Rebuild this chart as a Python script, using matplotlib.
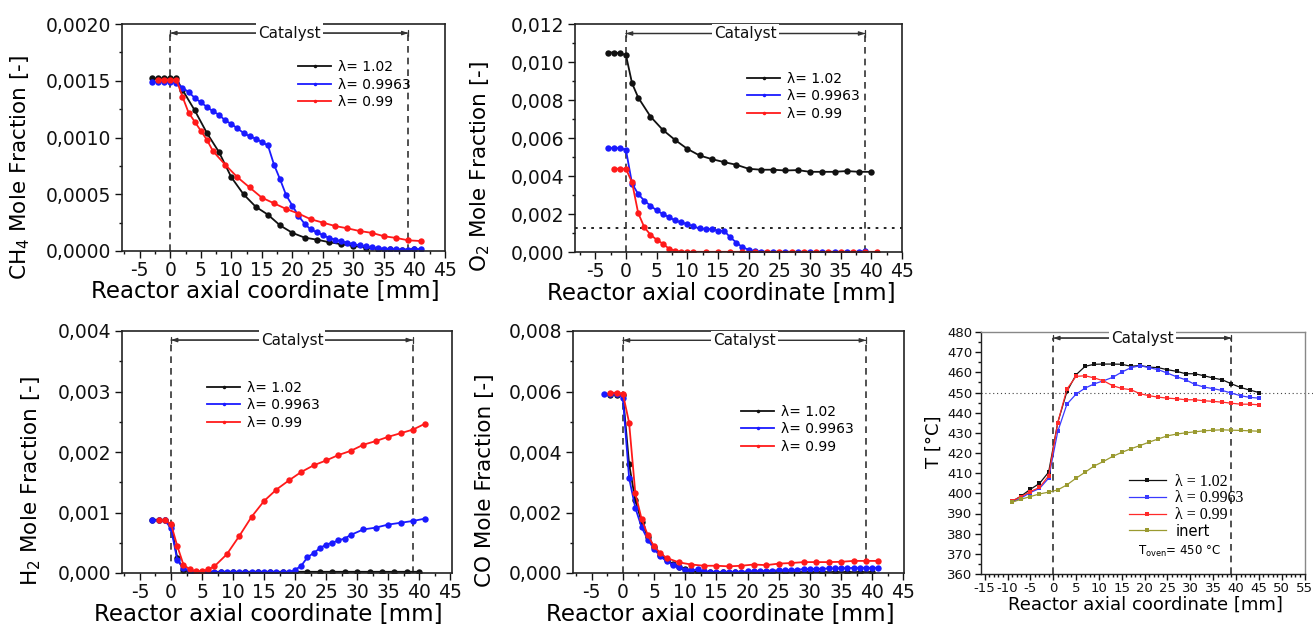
import matplotlib
matplotlib.use('Agg')
import matplotlib.pyplot as plt
from matplotlib.ticker import MultipleLocator

# ---------------- data ----------------
cat_start, cat_end = 0, 39
labels3 = ['λ= 1.02', 'λ= 0.9963', 'λ= 0.99']
labels4 = ['λ = 1.02', 'λ = 0.9963', 'λ = 0.99', 'inert']

# CH4
ch4_x_a = [-3, -2, -1, 0, 1, 2, 4, 6, 8, 10, 12, 14, 16, 18, 20, 22, 24, 26, 28, 30, 32, 34, 36, 38, 40]
ch4_y_a = [0.00152, 0.00152, 0.00152, 0.00152, 0.00152, 0.00142, 0.00124, 0.00104, 0.00087, 0.00065,
           0.00050, 0.00039, 0.00032, 0.000225, 0.00016, 0.000118, 0.00010, 0.000078, 0.00006, 0.000045,
           0.00003, 0.00002, 0.000015, 0.00001, 0.000015]
ch4_x_b = [-3, -2, -1, 0, 1, 2, 3, 4, 5, 6, 7, 8, 9, 10, 11, 12, 13, 14, 15, 16, 17, 18, 19, 20, 21,
           22, 23, 24, 25, 26, 27, 28, 29, 30, 31, 32, 33, 34, 35, 36, 37, 38, 39, 40, 41]
ch4_y_b = [0.00149, 0.00149, 0.00149, 0.00149, 0.00148, 0.00144, 0.0014, 0.00135, 0.00131, 0.00127,
           0.00123, 0.0012, 0.00115, 0.00112, 0.00108, 0.00104, 0.00101, 0.00099, 0.00096, 0.00093,
           0.00076, 0.00063, 0.00049, 0.0004, 0.00031, 0.00024, 0.00019, 0.000165, 0.00014, 0.000115,
           0.0001, 0.000085, 0.000074, 0.00006, 0.00005, 0.00004, 0.000032, 0.000026, 0.00002, 0.000018,
           0.000015, 0.000013, 0.000013, 0.000015, 0.000018]
ch4_x_c = [-2, -1, 0, 1, 2, 3, 4, 5, 6, 7, 9, 11, 13, 15, 17, 19, 21, 23, 25, 27, 29, 31, 33, 35, 37, 39, 41]
ch4_y_c = [0.00151, 0.00151, 0.00151, 0.00151, 0.00136, 0.00122, 0.00114, 0.00106, 0.00098, 0.00088,
           0.00076, 0.00065, 0.00056, 0.00047, 0.00042, 0.00037, 0.00033, 0.00028, 0.00025, 0.00022,
           0.0002, 0.000176, 0.00016, 0.00013, 0.000115, 0.000094, 0.000088]

# O2
o2_x_a = [-3, -2, -1, 0, 1, 2, 4, 6, 8, 10, 12, 14, 16, 18, 20, 22, 24, 26, 28, 30, 32, 34, 36, 38, 40]
o2_y_a = [0.0105, 0.0105, 0.01046, 0.01037, 0.00888, 0.00813, 0.00713, 0.00643, 0.0059, 0.00543,
          0.00508, 0.00489, 0.00473, 0.00459, 0.00438, 0.00433, 0.00433, 0.00429, 0.00431, 0.00422,
          0.00422, 0.00422, 0.00426, 0.00422, 0.00422]
o2_x_b = [-3, -2, -1, 0, 1, 2, 3, 4, 5, 6, 7, 8, 9, 10, 11, 12, 13, 14, 15, 16, 17, 18, 19, 20, 21, 22,
          24, 26, 28, 30, 32, 34, 36, 38, 39]
o2_y_b = [0.00547, 0.00547, 0.00547, 0.00538, 0.0036, 0.00305, 0.0027, 0.00244, 0.00219, 0.002,
          0.00184, 0.00166, 0.00156, 0.00147, 0.00135, 0.00124, 0.00121, 0.00121, 0.00112, 0.00112,
          0.00077, 0.0005, 0.00025, 0.00012, 0.00004, 0.00002,
          0.00001, 0.00001, 0.00001, 0.00001, 0.00001, 0.00001, 0.00001, 0.00001, 0.00004]
o2_x_c = [-2, -1, 0, 1, 2, 3, 4, 5, 6, 7, 8, 9, 10, 11, 13, 15, 17, 19, 21, 23, 25, 27, 29, 31, 33, 35, 37, 39, 41]
o2_y_c = [0.00438, 0.00438, 0.00438, 0.00366, 0.00205, 0.0013, 0.00091, 0.00065, 0.00044, 0.00018,
          0.00006, 0.00002, 0.00001, 0.00001, 0.00001, 0.00001, 0.00001, 0.00001, 0.00001, 0.00001,
          0.00001, 0.00001, 0.00001, 0.00001, 0.00001, 0.00001, 0.00001, 0.00001, 0.00001]
o2_ref_level = 0.00126

# H2
h2_x_a = [-3, -2, -1, 0, 1, 2, 3, 4, 6, 8, 10, 12, 14, 16, 18, 20, 22, 24, 26, 28, 30, 32, 34, 36, 38, 40]
h2_y_a = [0.00088, 0.00088, 0.00087, 0.0008, 0.00025, 0.00005, 0.00002, 0.00002, 0.00002, 0.00002,
          0.00002, 0.00002, 0.00002, 0.00002, 0.00002, 0.00002, 0.00002, 0.00002, 0.00002, 0.00002,
          0.00002, 0.00002, 0.00002, 0.00002, 0.00002, 0.00002]
h2_x_b = [-3, -2, -1, 0, 1, 2, 3, 4, 5, 6, 7, 8, 9, 10, 11, 12, 13, 14, 15, 16, 17, 18, 19, 20, 21, 22,
          23, 24, 25, 26, 27, 28, 29, 31, 33, 35, 37, 39, 41]
h2_y_b = [0.00087, 0.00087, 0.00087, 0.00074, 0.00022, 0.00008, 0.00003, 0.00001, 0.00001, 0.00001,
          0.00001, 0.00001, 0.00001, 0.00001, 0.00001, 0.00001, 0.00001, 0.00001, 0.00001, 0.00001,
          0.00001, 0.00001, 0.00001, 0.00005, 0.00012, 0.00026, 0.00033, 0.00041, 0.00047, 0.0005,
          0.00054, 0.00057, 0.00063, 0.00072, 0.00075, 0.0008, 0.00083, 0.00086, 0.0009]
h2_x_c = [-2, -1, 0, 1, 2, 3, 4, 5, 6, 7, 9, 11, 13, 15, 17, 19, 21, 23, 25, 27, 29, 31, 33, 35, 37, 39, 41]
h2_y_c = [0.00087, 0.00087, 0.00081, 0.00045, 0.00014, 0.00006, 0.00003, 0.00003, 0.00006, 0.00011,
          0.00031, 0.00061, 0.00093, 0.00119, 0.00138, 0.00153, 0.00167, 0.00178, 0.00186, 0.00195,
          0.00202, 0.00212, 0.00218, 0.00225, 0.00231, 0.00237, 0.00247]

# CO
co_x_a = [-2, -1, 0, 1, 2, 3, 4, 5, 6, 7, 8, 9, 10, 11, 12, 14, 16, 18, 20, 22, 24, 26, 28, 30, 32, 34, 36, 38, 40]
co_y_a = [0.0059, 0.0059, 0.0059, 0.0036, 0.0024, 0.0017, 0.0012, 0.00086, 0.0006, 0.00044, 0.0003,
          0.0002, 0.00012, 0.00007, 0.00004, 0.00003, 0.00003, 0.00003, 0.00003, 0.00003, 0.00003,
          0.00003, 0.00003, 0.00003, 0.00003, 0.00003, 0.00003, 0.00003, 0.00003]
co_x_b = [-3, -2, -1, 0, 1, 2, 3, 4, 5, 6, 7, 8, 9, 10, 11, 12, 13, 14, 15, 16, 17, 18, 19, 20, 21,
          22, 23, 24, 25, 26, 27, 28, 29, 30, 31, 32, 33, 34, 35, 36, 37, 38, 39, 40, 41]
co_y_b = [0.00592, 0.00592, 0.00592, 0.0058, 0.00314, 0.00215, 0.00152, 0.0011, 0.0008, 0.00055,
          0.00039, 0.00028, 0.0002, 0.00011, 0.00009, 0.00012, 0.00005, 0.00003, 0.00003, 0.00003,
          0.00003, 0.00004, 0.00004, 0.00005, 0.00006, 0.00006, 0.00007, 0.00008, 0.00009, 0.0001,
          0.0001, 0.00011, 0.00013, 0.00013, 0.00014, 0.00014, 0.00015, 0.00015, 0.00016, 0.00016,
          0.00017, 0.00017, 0.00017, 0.00017, 0.00017]
co_x_c = [-2, -1, 0, 1, 2, 3, 4, 5, 6, 7, 9, 11, 13, 15, 17, 19, 21, 23, 25, 27, 29, 31, 33, 35, 37, 39, 41]
co_y_c = [0.00596, 0.00596, 0.00593, 0.00497, 0.00263, 0.00179, 0.00125, 0.00088, 0.00066, 0.0005,
          0.00035, 0.00028, 0.00024, 0.00024, 0.00022, 0.00024, 0.00028, 0.00026, 0.00031, 0.00033,
          0.00036, 0.00036, 0.00036, 0.00037, 0.0004, 0.0004, 0.0004]

# Temperature
t_x = [-9, -7, -5, -3, -1, 1, 3, 5, 7, 9, 11, 13, 15, 17, 19, 21, 23, 25, 27, 29, 31, 33, 35, 37, 39, 41, 43, 45]
t_a = [395.9, 398.7, 402.0, 404.9, 410.5, 435.1, 450.5, 458.8, 463.0, 464.0, 464.1, 464.1, 464.0, 463.0,
       463.4, 462.6, 462.3, 461.3, 460.5, 459.3, 459.3, 458.3, 457.2, 456.3, 454.3, 452.5, 451.2, 450.0]
t_b = [395.6, 397.7, 400.4, 402.4, 407.5, 430.7, 444.2, 449.2, 452.2, 454.3, 455.8, 457.5, 460.1, 462.3,
       463.3, 462.3, 461.3, 459.6, 457.8, 456.3, 454.0, 452.7, 451.9, 451.0, 449.7, 448.4, 447.6, 447.2]
t_c = [396.3, 398.4, 400.9, 402.9, 408.7, 435.1, 451.7, 458.0, 458.3, 457.2, 455.8, 453.4, 452.0, 451.4,
       449.4, 448.4, 447.7, 447.2, 446.9, 446.4, 446.4, 445.9, 445.6, 445.2, 444.7, 444.2, 444.2, 443.9]
t_d = [395.6, 397.1, 398.4, 399.7, 400.6, 401.7, 404.2, 407.5, 410.5, 413.6, 415.8, 418.3, 420.3, 422.1,
       423.7, 425.4, 427.0, 428.5, 429.4, 430.0, 430.5, 431.0, 431.3, 431.5, 431.3, 431.2, 431.0, 430.8]
t_oven = 450

xt_main = [-5, 0, 5, 10, 15, 20, 25, 30, 35, 40, 45]
xt_T = [-15, -10, -5, 0, 5, 10, 15, 20, 25, 30, 35, 40, 45, 50, 55]
ch4_yt = [0.0, 0.0005, 0.0010, 0.0015, 0.0020]
ch4_ytl = ['0,0000', '0,0005', '0,0010', '0,0015', '0,0020']
o2_yt = [0.0, 0.002, 0.004, 0.006, 0.008, 0.010, 0.012]
o2_ytl = ['0,000', '0,002', '0,004', '0,006', '0,008', '0,010', '0,012']
h2_yt = [0.0, 0.001, 0.002, 0.003, 0.004]
h2_ytl = ['0,000', '0,001', '0,002', '0,003', '0,004']
co_yt = [0.0, 0.002, 0.004, 0.006, 0.008]
co_ytl = ['0,000', '0,002', '0,004', '0,006', '0,008']
t_yt = [360, 370, 380, 390, 400, 410, 420, 430, 440, 450, 460, 470, 480]

# ---------------- figure ----------------
W, H = 1313, 631
plt.rcParams['font.family'] = ['DejaVu Sans']
plt.rcParams['mathtext.default'] = 'regular'
fig = plt.figure(figsize=(W / 100, H / 100), dpi=100)

BLACK, BLUE, RED, OLIVE = '#111111', '#1a1aff', '#ff1a1a', '#9a9a30'


def ax_at(l, t, r, b):
    return fig.add_axes([l / W, 1 - b / H, (r - l) / W, (b - t) / H])


def style(ax, xlim, ylim, xt, yt, ytl, xminor, yminor, fs, spine_lw=1.2):
    ax.set_xlim(*xlim)
    ax.set_ylim(*ylim)
    ax.set_xticks(xt)
    ax.set_xticklabels([str(v) for v in xt])
    ax.set_yticks(yt)
    ax.set_yticklabels(ytl)
    ax.xaxis.set_minor_locator(MultipleLocator(xminor))
    ax.yaxis.set_minor_locator(MultipleLocator(yminor))
    ax.tick_params(which='both', direction='out', top=False, right=False, labelsize=fs,
                   width=1.0, colors='#111111')
    ax.tick_params(which='major', length=5, pad=2.5)
    ax.tick_params(which='minor', length=2.5)
    for s in ax.spines.values():
        s.set_linewidth(spine_lw)
        s.set_color('#222222')


def catalyst(ax, yb, fs, lw=1.2, dash=(0, (4, 3))):
    y0 = ax.get_ylim()[0]
    ax.vlines([cat_start, cat_end], y0, yb, colors='#333333', linestyles=[dash], lw=lw, zorder=1)
    ax.annotate('', xy=(cat_start, yb), xytext=(cat_end, yb),
                arrowprops=dict(arrowstyle='|-|,widthA=0.22,widthB=0.22', lw=0.9, color='#333333',
                                shrinkA=0, shrinkB=0))
    ax.annotate('', xy=(cat_start, yb), xytext=(cat_end, yb),
                arrowprops=dict(arrowstyle='<|-|>,head_length=0.35,head_width=0.12', lw=0.9,
                                color='#333333', shrinkA=0, shrinkB=0))
    ax.text((cat_start + cat_end) / 2, yb, 'Catalyst', ha='center', va='center', fontsize=fs,
            color='#111111', bbox=dict(fc='white', ec='none', pad=1.5), zorder=5)


def three(ax, xa, ya, xb, yb, xc, yc):
    kw = dict(marker='o', ms=4.6, lw=1.3, mew=0)
    la, = ax.plot(xa, ya, color=BLACK, **kw)
    lb, = ax.plot(xb, yb, color=BLUE, **kw)
    lc, = ax.plot(xc, yc, color=RED, **kw)
    return [la, lb, lc]


def leg(ax, handles, anchor):
    ax.legend(handles, labels3, loc='upper left', bbox_to_anchor=anchor, frameon=False,
              fontsize=10, handlelength=2.4, handletextpad=0.45, labelspacing=0.25,
              borderpad=0, borderaxespad=0, markerscale=0.55)


def labels(ax, ylab, xpos, ypos):
    ax.set_xlabel('Reactor axial coordinate [mm]', fontsize=XLAB_FS, va='top')
    ax.set_ylabel(ylab, fontsize=YLAB_FS)
    ax.xaxis.set_label_coords(*xpos)
    ax.yaxis.set_label_coords(*ypos)


TICK_FS, XLAB_FS, YLAB_FS = 13.5, 16.5, 15.5

# Panel 1: CH4
ax1 = ax_at(122, 24, 445, 251)
h = three(ax1, ch4_x_a, ch4_y_a, ch4_x_b, ch4_y_b, ch4_x_c, ch4_y_c)
style(ax1, (-7.9, 45), (0, 0.0020), xt_main, ch4_yt, ch4_ytl, 2.5, 0.00025, TICK_FS)
catalyst(ax1, 0.00192, 11)
leg(ax1, h, (0.545, 0.84))
labels(ax1, 'CH$_4$ Mole Fraction [-]', (0.443, -0.128), (-0.28, 0.37))

# Panel 2: O2
ax2 = ax_at(575, 24, 902, 252)
h = three(ax2, o2_x_a, o2_y_a, o2_x_b, o2_y_b, o2_x_c, o2_y_c)
style(ax2, (-8.3, 45), (0, 0.012), xt_main, o2_yt, o2_ytl, 2.5, 0.001, TICK_FS)
ax2.axhline(o2_ref_level, color='#111111', ls=(0, (1.5, 3)), lw=1.3, zorder=1)
catalyst(ax2, 0.0115, 11)
leg(ax2, h, (0.526, 0.79))
labels(ax2, 'O$_2$ Mole Fraction [-]', (0.446, -0.13), (-0.255, 0.373))

# Panel 3: H2
ax3 = ax_at(122, 331, 452, 573)
h = three(ax3, h2_x_a, h2_y_a, h2_x_b, h2_y_b, h2_x_c, h2_y_c)
style(ax3, (-7.9, 45.3), (0, 0.004), xt_main, h2_yt, h2_ytl, 2.5, 0.0005, TICK_FS)
catalyst(ax3, 0.00385, 11)
leg(ax3, h, (0.258, 0.795))
labels(ax3, 'H$_2$ Mole Fraction [-]', (0.442, -0.125), (-0.24, 0.38))

# Panel 4: CO
ax4 = ax_at(573, 331, 904, 573)
h = three(ax4, co_x_a, co_y_a, co_x_b, co_y_b, co_x_c, co_y_c)
style(ax4, (-8.0, 45.1), (0, 0.008), xt_main, co_yt, co_ytl, 2.5, 0.001, TICK_FS)
catalyst(ax4, 0.00769, 11)
leg(ax4, h, (0.508, 0.695))
labels(ax4, 'CO Mole Fraction [-]', (0.444, -0.125), (-0.235, 0.384))

# Panel 5: Temperature
ax5 = ax_at(981, 332, 1305, 574)
kw = dict(marker='s', ms=2.8, lw=0.9, mew=0)
ha, = ax5.plot(t_x, t_a, color=BLACK, **kw)
hb, = ax5.plot(t_x, t_b, color='#3a3aff', **kw)
hc, = ax5.plot(t_x, t_c, color='#ff2a2a', **kw)
hd, = ax5.plot(t_x, t_d, color=OLIVE, **kw)
style(ax5, (-15.8, 55.1), (360, 480), xt_T, t_yt, [str(v) for v in t_yt], 1, 5, 9.5, spine_lw=1.0)
ax5.spines['top'].set_color('#888888')
ax5.spines['right'].set_color('#888888')
ax5.tick_params(which='major', length=4, pad=2)
ax5.tick_params(which='minor', length=2)
ax5.axhline(t_oven, xmin=0, xmax=1.025, color='#444444', ls=(0, (1, 2.5)), lw=0.8, zorder=1, clip_on=False)
catalyst(ax5, 477, 11, lw=1.2, dash=(0, (4, 3)))
lg = ax5.legend([ha, hb, hc, hd], labels4, loc='upper left', bbox_to_anchor=(0.457, 0.415),
                frameon=False, fontsize=11.5, handlelength=2.3, handletextpad=0.6, labelspacing=0.05,
                borderpad=0, borderaxespad=0, markerscale=1.0)
for t in lg.get_texts()[:3]:
    t.set_family('Liberation Serif')
lg.get_texts()[3].set_fontsize(10.5)
ax5.text(0.485, 0.095, 'T$_{oven}$= 450 °C', transform=ax5.transAxes, fontsize=8.5, ha='left', va='center')
ax5.set_xlabel('Reactor axial coordinate [mm]', fontsize=13, va='top')
ax5.set_ylabel('T [°C]', fontsize=13)
ax5.xaxis.set_label_coords(0.506, -0.088)
ax5.yaxis.set_label_coords(-0.117, 0.545)

fig.savefig('out.png', dpi=100)
